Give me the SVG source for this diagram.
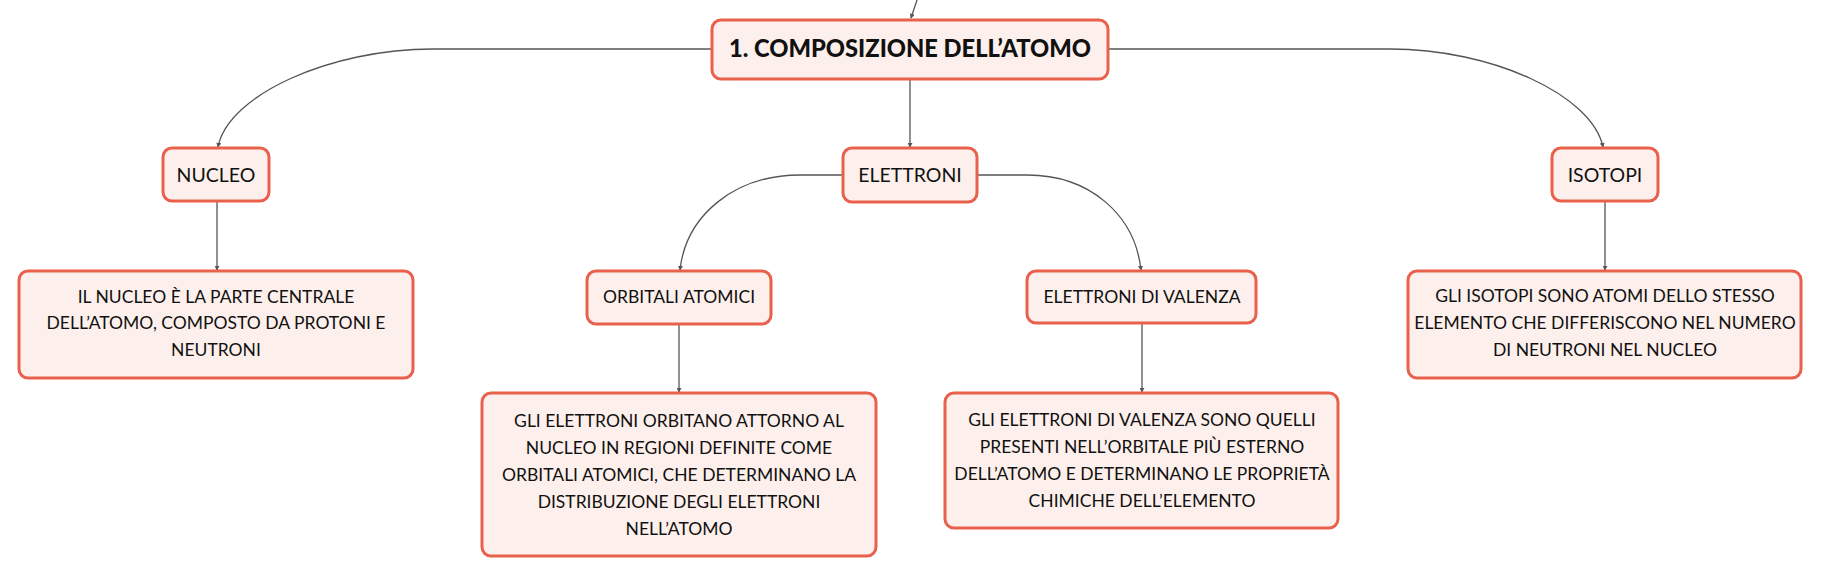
<svg xmlns="http://www.w3.org/2000/svg" width="1821" height="577" viewBox="0 0 1821 577">
<defs>
<style>
.box{fill:#fdf0ec;stroke:#e9604c;stroke-width:3}
.t{font-family:Lato,"Open Sans","Liberation Sans",sans-serif;font-size:17.5px;fill:#111;text-anchor:middle}
.t1{font-family:Lato,"Open Sans","Liberation Sans",sans-serif;font-size:19.5px;fill:#111;text-anchor:middle}
.tb{font-family:Lato,"Open Sans","Liberation Sans",sans-serif;font-size:23.7px;font-weight:900;fill:#111;text-anchor:middle}
.c{fill:none;stroke:#555;stroke-width:1.3}
</style>
<marker id="a" viewBox="0 0 6 6" refX="5" refY="3" markerWidth="5" markerHeight="5" orient="auto" markerUnits="userSpaceOnUse">
<path d="M0,0 L6,3 L0,6 z" fill="#555"/>
</marker>
</defs>
<rect width="1821" height="577" fill="#fff"/>
<g id="connectors">
<path class="c" d="M917,0 L911,18" marker-end="url(#a)"/>
<path class="c" d="M712,49 L433,49 C330,49 228,95 218,147" marker-end="url(#a)"/>
<path class="c" d="M1108,49 L1390,49 C1492,49 1592,95 1603,147" marker-end="url(#a)"/>
<path class="c" d="M910,79 L910,147" marker-end="url(#a)"/>
<path class="c" d="M843,175 L800,175 C735,175 686,215 680,270" marker-end="url(#a)"/>
<path class="c" d="M977,175 L1027,175 C1090,175 1135,215 1141,270" marker-end="url(#a)"/>
<path class="c" d="M217,201 L217,270" marker-end="url(#a)"/>
<path class="c" d="M679,324 L679,392" marker-end="url(#a)"/>
<path class="c" d="M1142,323 L1142,392" marker-end="url(#a)"/>
<path class="c" d="M1605,201 L1605,270" marker-end="url(#a)"/>
</g>
<g id="root">
<rect class="box" x="712" y="20" width="396" height="59" rx="9"/>
<text class="tb" x="910" y="57">1. COMPOSIZIONE DELL’ATOMO</text>
</g>
<g id="nucleo">
<rect class="box" x="163" y="148" width="106" height="53" rx="9"/>
<text class="t1" x="216" y="182">NUCLEO</text>
</g>
<g id="elettroni">
<rect class="box" x="843" y="148" width="134" height="54" rx="9"/>
<text class="t1" x="910" y="182">ELETTRONI</text>
</g>
<g id="isotopi">
<rect class="box" x="1552" y="148" width="106" height="53" rx="9"/>
<text class="t1" x="1605" y="182">ISOTOPI</text>
</g>
<g id="nucleo-desc">
<rect class="box" x="19" y="271" width="394" height="107" rx="9"/>
<text class="t" x="216" y="303">IL NUCLEO È LA PARTE CENTRALE</text>
<text class="t" x="216" y="329">DELL’ATOMO, COMPOSTO DA PROTONI E</text>
<text class="t" x="216" y="356">NEUTRONI</text>
</g>
<g id="orbitali">
<rect class="box" x="587" y="271" width="184" height="53" rx="9"/>
<text class="t" x="679" y="303">ORBITALI ATOMICI</text>
</g>
<g id="valenza">
<rect class="box" x="1027" y="271" width="229" height="52" rx="9"/>
<text class="t" x="1142" y="303">ELETTRONI DI VALENZA</text>
</g>
<g id="isotopi-desc">
<rect class="box" x="1408" y="271" width="393" height="107" rx="9"/>
<text class="t" x="1605" y="302">GLI ISOTOPI SONO ATOMI DELLO STESSO</text>
<text class="t" x="1605" y="329">ELEMENTO CHE DIFFERISCONO NEL NUMERO</text>
<text class="t" x="1605" y="356">DI NEUTRONI NEL NUCLEO</text>
</g>
<g id="orbitali-desc">
<rect class="box" x="482" y="393" width="394" height="163" rx="9"/>
<text class="t" x="679" y="427">GLI ELETTRONI ORBITANO ATTORNO AL</text>
<text class="t" x="679" y="454">NUCLEO IN REGIONI DEFINITE COME</text>
<text class="t" x="679" y="481">ORBITALI ATOMICI, CHE DETERMINANO LA</text>
<text class="t" x="679" y="508">DISTRIBUZIONE DEGLI ELETTRONI</text>
<text class="t" x="679" y="535">NELL’ATOMO</text>
</g>
<g id="valenza-desc">
<rect class="box" x="945" y="393" width="393" height="135" rx="9"/>
<text class="t" x="1142" y="426">GLI ELETTRONI DI VALENZA SONO QUELLI</text>
<text class="t" x="1142" y="453">PRESENTI NELL’ORBITALE PIÙ ESTERNO</text>
<text class="t" x="1142" y="480">DELL’ATOMO E DETERMINANO LE PROPRIETÀ</text>
<text class="t" x="1142" y="507">CHIMICHE DELL’ELEMENTO</text>
</g>
</svg>
